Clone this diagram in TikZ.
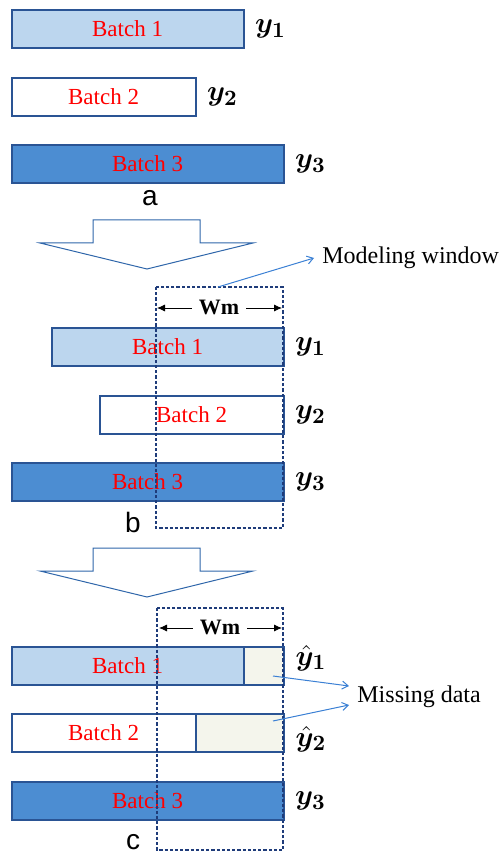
\documentclass[tikz,border=0pt]{standalone}
\usepackage{fontspec}
\setmainfont{Liberation Serif}
\newfontfamily\arialfont{Liberation Sans}
\usepackage{bm}
\usetikzlibrary{positioning,arrows.meta}
\definecolor{barline}{HTML}{2A5494}
\definecolor{lightbar}{HTML}{BCD6EE}
\definecolor{darkbar}{HTML}{4C8DD2}
\definecolor{missfill}{HTML}{F4F5EC}
\definecolor{pointer}{HTML}{3B80D4}
\definecolor{winline}{HTML}{1F3C7A}
\begin{document}
\begin{tikzpicture}[x=0.5pt,y=-0.5pt,
    bar/.style={draw=barline,line width=1.1pt,anchor=north west,inner sep=0pt,
      minimum height=19pt,text=red,font=\fontsize{11.5}{13}\selectfont},
    ylab/.style={inner sep=0pt,font=\fontsize{15}{17}\selectfont},
    window/.style={draw=winline,line width=0.6pt,dash pattern=on 1.6pt off 1pt},
    bigarrow/.style={draw=pointer!80!black,line width=0.5pt,fill=white},
    pointto/.style={draw=pointer,line width=0.5pt,-{Straight Barb[length=3pt,width=4pt]}},
    partlab/.style={font=\arialfont\fontsize{14}{16}\selectfont},
    note/.style={font=\fontsize{12}{14}\selectfont,inner sep=0pt,anchor=west}]
  \useasboundingbox (0,0) rectangle (502,855);
  % a: raw batches
  \foreach \n/\y/\xx/\c in {1/8/243/lightbar, 2/76/195/white, 3/143/283/darkbar}{
    \node[bar,fill=\c,minimum width=(\xx-11)*0.5pt] (a\n) at (10.5,\y+1) {Batch \n};
    \node[ylab,right=5pt of a\n] (ya\n) {$\bm{y}_{\bm{\n}}$};
  }
  \node[partlab] (pa) at (150,198) {a};
  % arrows between the steps
  \foreach \dy/\nm in {0/down1, 328/down2}{
    \begin{scope}[shift={(0,\dy)}]
      \draw[bigarrow] (93,220)--(200,220)--(200,243)--(253,243)--(147,269)--(40,243)--(93,243)--cycle;
    \end{scope}
  }
  % b: aligned on the end point
  \foreach \n/\y/\xa/\c in {1/326/50/lightbar, 2/394/98/white, 3/461/10/darkbar}{
    \node[bar,fill=\c,minimum width=(283-\xa-1)*0.5pt] (b\n) at (\xa+0.5,\y+1) {Batch \n};
    \node[ylab,right=5pt of b\n] (yb\n) {$\bm{y}_{\bm{\n}}$};
  }
  \node[partlab] (pb) at (133,522) {b};
  \draw[window] (156,287) rectangle (283,528);
  \coordinate (wtop) at (218,287);
  \node[note] (mw) at (322,258) {Modeling window};
  \draw[pointto] (wtop) -- ([xshift=-4pt]mw.west);
  \coordinate (wbl) at (157,308);
  \coordinate (wbr) at (282,308);
  \draw[-{Latex[length=4pt,width=3.5pt]}] (219,308) -- (wbl);
  \draw[-{Latex[length=4pt,width=3.5pt]}] (219,308) -- (wbr);
  \node[fill=white,inner sep=3.5pt,font=\bfseries\fontsize{11}{12}\selectfont] (wmb) at (219,307) {Wm};
  % c: missing data at the end
  \foreach \n/\y/\xx/\c in {1/645/243/lightbar, 2/712/195/white}{
    \node[bar,fill=\c,minimum width=(\xx-11)*0.5pt] (c\n) at (10.5,\y+1) {Batch \n};
    \node[bar,fill=missfill,minimum width=(283-\xx)*0.5pt] (m\n) at (\xx,\y+1) {};
  }
  \node[bar,fill=darkbar,minimum width=272*0.5pt] (c3) at (10.5,781) {Batch 3};
  \node[ylab,right=5pt of m1,yshift=4pt] (yc1) {$\hat{\bm{y}}_{\bm{1}}$};
  \node[ylab,right=5pt of m2,yshift=-3pt] (yc2) {$\hat{\bm{y}}_{\bm{2}}$};
  \node[ylab,right=5pt of c3] (yc3) {$\bm{y}_{\bm{3}}$};
  \node[partlab] (pc) at (133,842) {c};
  \draw[window] (157,608) rectangle (283,850);
  \coordinate (wcl) at (159,628);
  \coordinate (wcr) at (282,628);
  \draw[-{Latex[length=4pt,width=3.5pt]}] (220,628) -- (wcl);
  \draw[-{Latex[length=4pt,width=3.5pt]}] (220,628) -- (wcr);
  \node[fill=white,inner sep=3.5pt,font=\bfseries\fontsize{11}{12}\selectfont] (wmc) at (220,627) {Wm};
  \node[note] (md) at (357,697) {Missing data};
  \coordinate (ms1) at (273,676);
  \coordinate (ms2) at (273,721);
  \draw[pointto] (ms1) -- ([xshift=-4pt,yshift=5.5pt]md.west);
  \draw[pointto] (ms2) -- ([xshift=-4pt,yshift=-4pt]md.west);
\end{tikzpicture}
\end{document}
